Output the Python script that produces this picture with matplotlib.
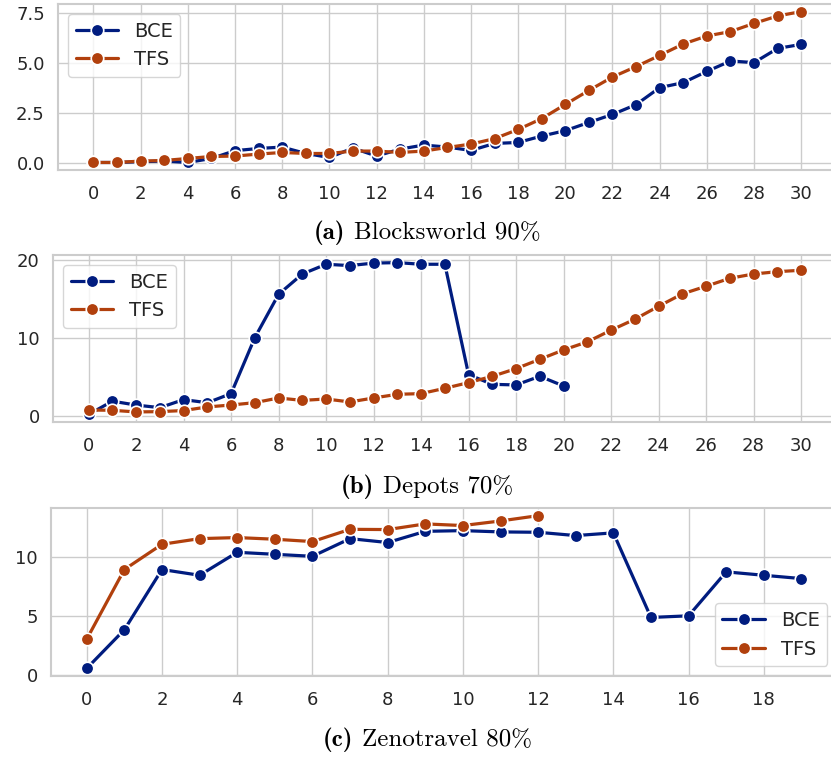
import matplotlib
matplotlib.use("Agg")
import matplotlib.pyplot as plt
import seaborn as sns

# Blocksworld 90%
bw_x = list(range(31))
bw_bce = [0.03, 0.03, 0.07, 0.10, 0.03, 0.23, 0.62, 0.73, 0.80, 0.48, 0.28, 0.75, 0.35, 0.70, 0.90,
          0.80, 0.63, 0.98, 1.03, 1.35, 1.62, 2.03, 2.43, 2.92, 3.77, 4.02, 4.58, 5.10, 5.02, 5.73, 5.93]
bw_tfs = [0.03, 0.03, 0.10, 0.13, 0.23, 0.33, 0.35, 0.45, 0.53, 0.48, 0.48, 0.60, 0.60, 0.53, 0.60,
          0.78, 0.95, 1.22, 1.68, 2.22, 2.93, 3.63, 4.30, 4.82, 5.38, 5.95, 6.35, 6.57, 6.98, 7.35, 7.57]

# Depots 70%
dp_x_bce = list(range(21))
dp_bce = [0.2, 1.9, 1.4, 1.07, 2.1, 1.7, 2.87, 10.05, 15.6, 18.2, 19.45, 19.28, 19.6, 19.66, 19.45,
          19.45, 5.3, 4.06, 3.98, 5.09, 3.85]
dp_x_tfs = list(range(31))
dp_tfs = [0.77, 0.73, 0.52, 0.56, 0.70, 1.16, 1.41, 1.71, 2.31, 2.0, 2.18, 1.8, 2.31, 2.78, 2.87,
          3.55, 4.28, 5.09, 6.07, 7.27, 8.47, 9.5, 11.0, 12.4, 14.06, 15.65, 16.63, 17.65, 18.2, 18.5, 18.68]

# Zenotravel 80%
zt_x_bce = list(range(20))
zt_bce = [0.57, 3.85, 8.96, 8.47, 10.42, 10.25, 10.08, 11.58, 11.25, 12.2, 12.26, 12.15, 12.12,
          11.84, 12.07, 4.89, 5.03, 8.76, 8.47, 8.19]
zt_x_tfs = list(range(13))
zt_tfs = [3.05, 8.96, 11.1, 11.58, 11.67, 11.53, 11.33, 12.37, 12.35, 12.83, 12.69, 13.08, 13.53]

cap_tags = ["(a)", "(b)", "(c)"]
cap_names = ["Blocksworld 90%", "Depots 70%", "Zenotravel 80%"]

sns.set_theme(style="whitegrid")
plt.rcParams['font.family'] = ['DejaVu Sans']

blue = "#001c7f"
orange = "#b1400d"

fig = plt.figure(figsize=(8.31, 7.57), dpi=100)

# [left, bottom, width, height] in figure fractions
boxes = [[0.0698, 0.7754, 0.937, 0.2193],
         [0.0638, 0.4425, 0.943, 0.2206],
         [0.0614, 0.1070, 0.946, 0.2219]]

data = [(bw_x, bw_bce, bw_x, bw_tfs, "upper left"),
        (dp_x_bce, dp_bce, dp_x_tfs, dp_tfs, "upper left"),
        (zt_x_bce, zt_bce, zt_x_tfs, zt_tfs, "lower right")]

cap_y = [1 - 233 / 757, 1 - 487 / 757, 1 - 740 / 757]

cap_texts = []
for i, (xb, yb, xt, yt, loc) in enumerate(data):
    ax = fig.add_axes(boxes[i])
    ax.plot(xb, yb, color=blue, marker="o", markersize=9, markeredgecolor="white",
            markeredgewidth=1.2, linewidth=2.3, label="BCE")
    ax.plot(xt, yt, color=orange, marker="o", markersize=9, markeredgecolor="white",
            markeredgewidth=1.2, linewidth=2.3, label="TFS")
    xmax = max(max(xb), max(xt))
    ax.set_xticks(list(range(0, xmax + 1, 2)))
    ax.tick_params(labelsize=13, colors="#262626")
    ax.tick_params(axis="x", pad=5)
    if i == 0:
        ax.set_yticks([0.0, 2.5, 5.0, 7.5])
    elif i == 1:
        ax.set_yticks([0, 10, 20])
    else:
        ax.set_yticks([0, 5, 10])
    for s in ax.spines.values():
        s.set_color("#cccccc")
        s.set_linewidth(1.5)
    ax.legend(loc=loc, fontsize=14, handlelength=2.2, frameon=True)

    # caption: bold tag + roman name, centred together
    t1 = fig.text(0.5, cap_y[i], cap_tags[i], family="cmb10", fontsize=18,
                  ha="left", va="center", color="black")
    t2 = fig.text(0.5, cap_y[i], cap_names[i], family="cmr10", fontsize=18,
                  ha="left", va="center", color="black")
    cap_texts.append((t1, t2))

fig.canvas.draw()
r = fig.canvas.get_renderer()
W = fig.bbox.width
gap = 9
for t1, t2 in cap_texts:
    w1 = t1.get_window_extent(r).width
    w2 = t2.get_window_extent(r).width
    total = w1 + gap + w2
    x0 = 0.514 * W - total / 2
    t1.set_x(x0 / W)
    t2.set_x((x0 + w1 + gap) / W)

fig.savefig("out.png", dpi=100)
